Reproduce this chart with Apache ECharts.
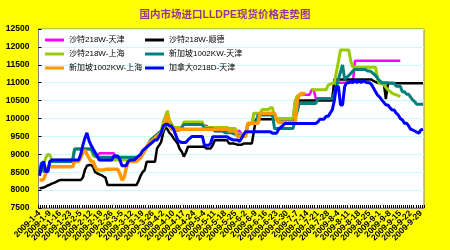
<!DOCTYPE html>
<html><head><meta charset="utf-8">
<script src="https://cdn.jsdelivr.net/npm/echarts@6/dist/echarts.min.js"></script>
<style>html,body{margin:0;padding:0;background:#ffff00}#c{width:450px;height:250px}</style>
</head><body><div id="c"></div><script>
const dates = [
"2009-1-4","2009-1-5","2009-1-6","2009-1-7","2009-1-8","2009-1-9","2009-1-12","2009-1-13","2009-1-14","2009-1-15",
"2009-1-16","2009-1-19","2009-1-20","2009-1-21","2009-1-22","2009-1-23","2009-2-1","2009-2-2","2009-2-3","2009-2-4",
"2009-2-5","2009-2-6","2009-2-9","2009-2-10","2009-2-11","2009-2-12","2009-2-13","2009-2-16","2009-2-17","2009-2-18",
"2009-2-19","2009-2-20","2009-2-23","2009-2-24","2009-2-25","2009-2-26","2009-2-27","2009-3-2","2009-3-3","2009-3-4",
"2009-3-5","2009-3-6","2009-3-9","2009-3-10","2009-3-11","2009-3-12","2009-3-13","2009-3-16","2009-3-17","2009-3-18",
"2009-3-19","2009-3-20","2009-3-23","2009-3-24","2009-3-25","2009-3-26","2009-3-27","2009-3-30","2009-3-31","2009-4-1",
"2009-4-2","2009-4-3","2009-4-7","2009-4-8","2009-4-9","2009-4-10","2009-4-13","2009-4-14","2009-4-15","2009-4-16",
"2009-4-17","2009-4-20","2009-4-21","2009-4-22","2009-4-23","2009-4-24","2009-4-27","2009-4-28","2009-4-29","2009-4-30",
"2009-5-4","2009-5-5","2009-5-6","2009-5-7","2009-5-8","2009-5-11","2009-5-12","2009-5-13","2009-5-14","2009-5-15",
"2009-5-18","2009-5-19","2009-5-20","2009-5-21","2009-5-22","2009-5-25","2009-5-26","2009-5-27","2009-5-31","2009-6-1",
"2009-6-2","2009-6-3","2009-6-4","2009-6-5","2009-6-8","2009-6-9","2009-6-10","2009-6-11","2009-6-12","2009-6-15",
"2009-6-16","2009-6-17","2009-6-18","2009-6-19","2009-6-22","2009-6-23","2009-6-24","2009-6-25","2009-6-26","2009-6-29",
"2009-6-30","2009-7-1","2009-7-2","2009-7-3","2009-7-6","2009-7-7","2009-7-8","2009-7-9","2009-7-10","2009-7-13",
"2009-7-14","2009-7-15","2009-7-16","2009-7-17","2009-7-20","2009-7-21","2009-7-22","2009-7-23","2009-7-24","2009-7-27",
"2009-7-28","2009-7-29","2009-7-30","2009-7-31","2009-8-3","2009-8-4","2009-8-5","2009-8-6","2009-8-7","2009-8-10",
"2009-8-11","2009-8-12","2009-8-13","2009-8-14","2009-8-17","2009-8-18","2009-8-19","2009-8-20","2009-8-21","2009-8-24",
"2009-8-25","2009-8-26","2009-8-27","2009-8-28","2009-8-31","2009-9-1","2009-9-2","2009-9-3","2009-9-4","2009-9-7",
"2009-9-8","2009-9-9","2009-9-10","2009-9-11","2009-9-14","2009-9-15","2009-9-16","2009-9-17","2009-9-18","2009-9-21",
"2009-9-22","2009-9-23","2009-9-24","2009-9-25","2009-9-28","2009-9-29","2009-9-30"];

const names = ["沙特218W-天津","沙特218W-顺德","沙特218W-上海","新加坡1002KW-天津","新加坡1002KW-上海","加拿大0218D-天津"];

const saudiTianjin = [
8500,8780,8520,8520,8520,8800,8800,8800,8800,8800,
8800,8800,8800,8800,8800,8800,8800,9150,9150,9150,
9150,9150,9150,9150,9150,9150,9050,8950,8950,9030,
9030,9030,9030,9030,9030,9030,9030,8920,8920,8920,
8920,8920,8920,8920,8920,8920,8920,8920,8920,8950,
9000,9100,9200,9300,9400,9450,9500,9550,9600,9650,
9700,9800,9860,9860,9770,9700,9680,9680,9680,9750,
9830,9830,9830,9830,9830,9830,9830,9830,9830,9830,
9800,9800,9720,9720,9720,9650,9650,9650,9650,9650,
9650,9650,9650,9650,9650,9650,9650,9650,9560,9560,
9560,9850,9850,9850,10150,10150,10150,10150,10150,10150,
10150,10150,10150,10150,10000,10000,10000,10000,10000,10000,
10000,10000,10000,10000,10480,10620,10660,10660,10660,10660,
10660,10660,10800,10800,10560,10560,10560,10560,10560,10560,
10560,10560,10560,11000,11000,11000,11000,11000,11000,11000,
11000,11000,11000,11610,11610,11610,11610,11610,11610,11610,
11610,11610,11610,11610,11610,11610,11610,11610,11610,11610,
11610,11610,11610,11610,11610,11610,null,null,null,null,
null,null,null,null,null,null,null];

const saudiShunde = [
8050,8060,8070,8100,8130,8150,8180,8200,8230,8260,
8280,8280,8280,8280,8280,8280,8280,8280,8280,8280,
8280,8350,8560,8680,8700,8700,8650,8500,8470,8440,
8420,8380,8350,8140,8140,8140,8140,8140,8140,8140,
8140,8140,8140,8140,8140,8140,8140,8140,8250,8400,
8500,8560,8790,8790,8790,8790,8790,9165,9250,9350,
9600,9770,9700,9600,9540,9450,9380,9300,9150,9075,
8935,9050,9210,9210,9210,9210,9210,9210,9210,9210,
9210,9165,9165,9165,9250,9390,9390,9390,9390,9390,
9390,9390,9300,9300,9300,9290,9270,9270,9270,9300,
9300,9300,9300,9300,9650,9980,9980,9980,9980,9980,
9980,9980,9980,9980,9980,9980,9980,9980,9980,9980,
9980,9980,9980,9980,9980,10500,10500,10500,10500,10500,
10500,10500,10500,10500,10500,10500,10500,10500,10500,10500,
10500,10500,10500,11090,11090,11090,11090,11090,11090,11090,
11090,11090,11090,11090,11090,11090,11090,11090,11090,11090,
11090,11090,11050,11020,11000,10985,10985,10985,10540,10985,
10985,10985,10985,10985,10985,10985,10985,10985,10985,10985,
10985,10985,10985,10985,10985,10985,10985];

const saudiShanghai = [
8450,8600,8700,8900,9000,8980,8840,8840,8840,8840,
8840,8840,8840,8840,8840,8840,8840,9150,9150,9150,
9150,9150,9150,9150,9150,9150,8950,8950,8950,8840,
8840,8840,8840,8840,8840,8840,8840,8840,8840,8840,
8840,8840,8840,8840,8840,8840,8840,8840,8900,8950,
9000,9100,9200,9300,9400,9450,9500,9550,9600,9650,
9900,10050,10220,9950,9850,9750,9750,9750,9750,9750,
9900,9900,9900,9900,9900,9900,9900,9900,9900,9900,
9750,9750,9750,9750,9750,9750,9750,9750,9750,9750,
9750,9750,9720,9720,9720,9720,9560,9560,9560,9560,
9560,9850,9850,9850,10150,10150,10150,10150,10250,10250,
10250,10250,10300,10300,10000,10000,10000,10000,10000,10000,
10000,10000,10000,10000,10480,10620,10660,10660,10660,null,
null,null,10800,10800,10800,10800,10800,10800,10800,10800,
10930,10960,10980,10985,11300,11590,11912,11912,11912,11912,
11912,11590,11430,11430,11430,11430,11430,11430,11430,11430,
11430,11430,11430,11430,11100,10970,10970,10950,10870,10800,
10760,10710,10680,10660,10640,10610,null,null,null,null,
null,null,null,null,null,null,null];

const singTianjin = [
8500,8780,8520,8520,8520,8800,8800,8800,8800,8800,
8800,8800,8800,8800,8800,8800,8800,9150,9150,9150,
9150,9150,9150,9150,9150,9150,9050,8950,8920,8920,
8920,8920,8920,8920,8920,8920,8920,8920,8920,8920,
8920,8920,8920,8920,8920,8920,8920,8920,8920,8950,
9000,9100,9200,9300,9400,9450,9500,9550,9600,9650,
9700,9800,9860,9860,9770,9700,9680,9680,9680,9750,
9830,9830,9830,9830,9830,9830,9830,9830,9830,9830,
9720,9720,9720,9720,9720,9650,9650,9650,9650,9650,
9600,9600,9600,9600,9580,9560,9540,9520,9500,9500,
9600,9800,9860,9860,9860,9860,10100,10100,10100,10100,
10100,10100,10100,10100,9720,9720,9720,9720,9720,9720,
9720,9720,9720,9720,10000,10200,10420,10420,10420,10420,
10420,10420,10420,10420,10420,10550,10550,10550,10550,10550,
10550,10550,10550,10700,10880,11100,11300,11495,11100,11150,
11200,11260,11330,11370,11370,11370,11370,11370,11370,11330,
11330,11300,11250,11200,11120,11050,11000,11000,11000,11000,
10990,10990,10990,10900,10900,10900,10750,10750,10680,10680,
10600,10520,10470,10400,10400,10400,10400];

const singShanghai = [
8280,8280,8300,8450,8650,8650,8650,8650,8650,8650,
8650,8650,8650,8650,8650,8650,8650,8800,8800,8800,
8900,9050,9120,9000,8900,8800,8800,8650,8560,8560,
8560,8560,8580,8580,8580,8580,8580,8580,8580,8450,
8280,8350,8600,8800,8800,8800,8800,8800,8850,8900,
9000,9100,9200,9300,9350,9400,9450,9500,9550,9600,
9750,9900,10100,9800,9700,9700,9700,9700,9700,9700,
9700,9700,9700,9700,9700,9700,9700,9700,9700,9700,
9700,9700,9700,9700,9700,9700,9700,9700,9700,9700,
9700,9700,9650,9650,9650,9650,9500,9500,9500,9500,
9500,9866,9866,9866,9866,9866,9866,10150,10150,10150,
10150,10150,10150,10150,10150,9977,9890,9890,9890,9890,
9890,9890,9890,9890,9890,10500,10650,10700,10700,10700,
null,null,null,null,null,null,null,null,null,null,
null,null,null,null,null,null,null,null,null,null,
null,null,null,null,null,null,null,null,null,null,
null,null,null,null,null,null,null,null,null,null,
null,null,null,null,null,null,null,null,null,null,
null,null,null,null,null,null,null];

const canadaTianjin = [
8400,8700,8800,8520,8520,8800,8840,8840,8840,8840,
8840,8840,8840,8840,8840,8840,8840,8840,8840,8840,
9000,9250,9450,9600,9380,9250,9150,9050,8950,8840,
8840,8840,8840,8840,8840,8840,8950,8950,8950,8840,
8680,8680,8680,8800,8840,8840,8840,8900,8950,9000,
9100,9150,9200,9250,9300,9350,9400,9400,9500,9600,
9780,9840,9840,9800,9780,9700,9550,9400,9350,9330,
9330,9330,9400,9450,9500,9500,9500,9500,9500,9500,
9250,9250,9250,9300,9490,9490,9490,9490,9490,9490,
9490,9490,9450,9420,9400,9400,9400,9360,9450,9550,
9630,9630,9630,9630,9630,9630,9630,9630,9630,9630,
9630,9630,9630,9590,9590,9590,9700,9750,9800,9860,
9860,9860,9860,9860,9860,9860,9860,9860,9860,9860,
9860,9860,9860,9860,9860,9900,9980,9980,9980,10060,
10060,10150,10240,10500,10890,10890,10380,10380,10890,11000,
11000,11050,11000,11070,11000,11050,11000,11050,11020,11000,
11000,10950,10850,10750,10650,10600,10520,10450,10380,10380,
10300,10240,10240,10150,10100,10000,9960,9870,9870,9800,
9700,9680,9650,9620,9590,9680,9700];

const yMin = 7500, yMax = 12500, yStep = 500;
const colors = ["#ff00ff","#000000","#99cc00","#008080","#ff9900","#0000ff"];
const widths = [2.5,2.5,3,3,3.5,3];
const seriesData = [saudiTianjin, saudiShunde, saudiShanghai, singTianjin, singShanghai, canadaTianjin];

const FONT = "'Liberation Sans','Noto Sans CJK SC',sans-serif";
const chart = echarts.init(document.getElementById('c'), null, {renderer:'canvas'});
const legendText = {fontSize:8, color:'#000', fontFamily:FONT, fontWeight:'normal'};
const xLabel = {hideOverlap:false, rotate:45, fontSize:8.5, fontWeight:'bold', color:'#000', margin:4, fontFamily:FONT};
chart.setOption({
  animation:false,
  backgroundColor:'#ffff00',
  title:{text:'国内市场进口LLDPE现货价格走势图', left:'center', top:10, padding:0,
    textStyle:{fontSize:10.5, fontWeight:'bold', color:'#993399', fontFamily:FONT}},
  legend:[
    {data:[names[0],names[2],names[4]], orient:'vertical', left:45, top:36, itemGap:6, itemWidth:19, itemHeight:3, icon:'rect', padding:0, textStyle:legendText},
    {data:[names[1],names[3],names[5]], orient:'vertical', left:145, top:36, itemGap:6, itemWidth:19, itemHeight:3, icon:'rect', padding:0, textStyle:legendText}
  ],
  grid:{left:38.5, right:26, top:29, bottom:42, show:true, backgroundColor:'#ffffff', borderColor:'#808080', borderWidth:1, containLabel:false},
  xAxis:[
    {type:'category', data:dates, boundaryGap:true, position:'bottom',
     axisLine:{lineStyle:{color:'#808080'}},
     axisTick:{show:true, interval:0, inside:true, length:3, lineStyle:{color:'#000'}},
     axisLabel:Object.assign({interval:function(i){return i%10===0;}}, xLabel),
     splitLine:{show:false}},
    {type:'category', data:dates, boundaryGap:true, position:'bottom', offset:0,
     axisLine:{show:false}, axisTick:{show:false},
     axisLabel:Object.assign({interval:function(i){return i%10===5;}}, xLabel),
     splitLine:{show:false}}
  ],
  yAxis:{type:'value', min:yMin, max:yMax, interval:yStep,
    axisLine:{show:true, lineStyle:{color:'#808080'}},
    axisTick:{show:true, inside:true, length:3, lineStyle:{color:'#000'}},
    axisLabel:{fontSize:8.5, fontWeight:'bold', color:'#000', margin:9, fontFamily:FONT, formatter:function(v){return String(v);}},
    splitLine:{lineStyle:{color:'#c8fafa', width:1}}},
  series: seriesData.map((d,k)=>({name:names[k], type:'line', data:d, xAxisIndex:0, showSymbol:false, symbol:'none',
    connectNulls:false, lineStyle:{color:colors[k], width:widths[k]}, itemStyle:{color:colors[k]}, z:2+k}))
});
</script></body></html>
